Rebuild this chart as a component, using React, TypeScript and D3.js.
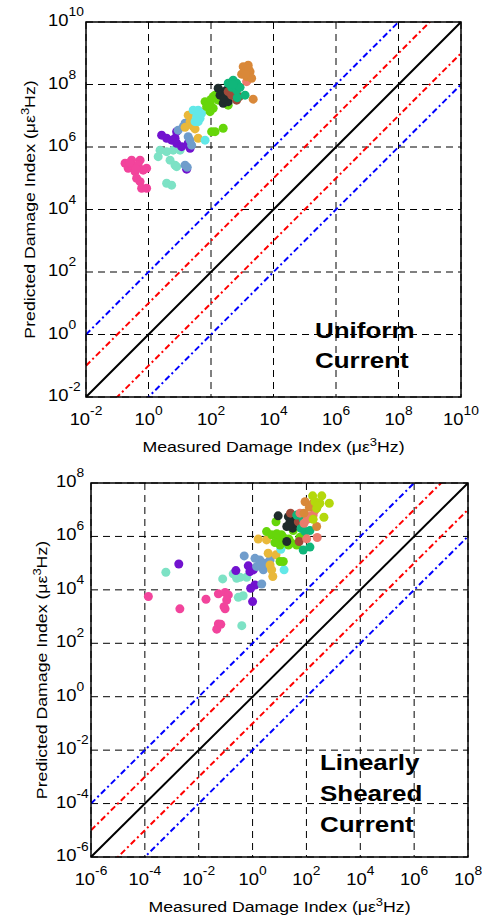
import React from 'react';
import * as d3 from 'd3';

// values are log10 of [measured, predicted] damage index, one array per test group

// --- uniform current panel ---
const uniformPink = [[-0.75, 5.48], [-0.54, 5.58], [-0.27, 5.58], [-0.49, 5.37], [-0.65, 5.32], [-0.43, 5.21], [-0.17, 5.26], [-0.06, 5.32], [-0.38, 5.0], [-0.27, 4.89], [-0.22, 4.68], [-0.06, 4.68], [-0.54, 5.42], [-0.33, 5.42], [-0.6, 5.5], [-0.4, 5.3]];
const uniformAqua = [[0.37, 5.9], [0.31, 5.69], [0.58, 5.85], [0.79, 5.9], [1.01, 5.9], [0.69, 5.58], [0.85, 5.42], [0.9, 5.37], [0.58, 4.84], [0.74, 4.78]];
const uniformPurple = [[0.42, 6.38], [0.58, 6.28], [0.74, 6.22], [0.85, 6.28], [0.9, 6.12], [1.06, 6.01], [1.33, 5.96], [1.27, 6.12], [0.9, 6.49], [1.22, 5.29]];
const uniformSteel = [[0.95, 6.54], [1.11, 6.65], [1.17, 6.76], [1.27, 6.33], [1.33, 6.22], [1.38, 6.06], [1.17, 5.42], [1.24, 5.35]];
const uniformGold = [[1.27, 7.02], [1.43, 7.08], [1.33, 6.81], [1.17, 6.63], [1.43, 6.65], [1.49, 6.58], [1.59, 6.28], [1.65, 7.13]];
const uniformCyan = [[1.43, 7.18], [1.59, 7.18], [1.54, 6.97], [1.65, 6.92], [1.49, 6.81], [1.59, 6.81], [1.81, 6.22], [1.7, 7.08]];
const uniformLime = [[1.81, 7.45], [1.97, 7.4], [1.86, 7.29], [2.07, 7.24], [1.97, 7.13], [2.13, 7.66], [2.23, 7.5], [2.07, 7.61], [2.02, 6.49], [2.13, 6.49], [2.39, 6.6], [2.55, 7.34], [1.92, 7.35], [2.0, 7.52]];
const uniformCharcoal = [[2.23, 7.88], [2.34, 7.77], [2.29, 7.66], [2.45, 7.66], [2.39, 7.4], [2.55, 7.45], [2.5, 7.82], [2.42, 7.55]];
const uniformBrown = [[2.55, 7.77], [2.66, 7.66], [2.82, 7.5], [2.91, 7.61]];
const uniformGreen = [[2.55, 8.04], [2.71, 8.14], [2.82, 8.04], [2.66, 7.91], [2.82, 7.82], [2.93, 7.91], [3.09, 7.66], [2.84, 7.58], [2.7, 8.0]];
const uniformSalmon = [[3.14, 8.09]];
const uniformOrange = [[3.03, 8.57], [3.19, 8.62], [3.09, 8.41], [3.25, 8.41], [3.14, 8.25], [3.3, 8.2], [2.98, 8.33], [3.35, 7.53], [3.2, 8.5], [3.1, 8.32]];

// --- linearly sheared current panel ---
const shearedPink = [[-3.87, 3.75], [-2.7, 3.29], [-1.73, 3.65], [-1.27, 3.85], [-1.02, 3.9], [-0.9, 3.81], [-0.96, 3.62], [-1.06, 3.37], [-1.02, 3.29], [-1.27, 2.72], [-1.33, 2.53], [-1.18, 2.71]];
const shearedAqua = [[-3.22, 4.66], [-1.11, 4.41], [-0.72, 4.6], [-0.59, 4.43], [-0.47, 4.47], [-0.22, 4.47], [-0.53, 3.72], [-0.35, 3.78], [-0.4, 2.66]];
const shearedPurple = [[-2.74, 4.97], [-0.62, 4.72], [-0.16, 4.9], [-0.1, 4.68], [0.03, 4.75], [0.09, 4.18], [-0.07, 4.06], [0.0, 3.56]];
const shearedSteel = [[-0.31, 5.27], [0.09, 5.18], [0.27, 5.12], [0.46, 5.0], [0.15, 4.87], [0.4, 4.75], [0.65, 5.12], [0.34, 4.22], [0.3, 4.95]];
const shearedGold = [[0.21, 5.9], [0.52, 5.87], [0.58, 5.37], [0.65, 4.93], [0.71, 4.75], [0.75, 4.5], [0.87, 5.31]];
const shearedCyan = [[1.17, 4.75], [1.05, 5.52]];
const shearedLime = [[0.87, 6.55], [0.52, 6.18], [0.71, 6.06], [0.95, 5.99], [1.08, 6.06], [1.2, 5.87], [1.33, 5.68], [1.45, 5.75], [1.02, 5.68], [0.83, 5.77], [1.02, 5.06], [1.14, 5.06], [1.64, 5.68], [1.76, 5.97], [1.51, 6.22], [0.9, 6.1], [1.15, 5.95], [1.35, 5.9]];
const shearedCharcoal = [[0.95, 6.77], [1.33, 6.74], [1.39, 6.55], [1.27, 6.37], [1.49, 6.31], [1.54, 6.49], [1.27, 5.81], [1.45, 6.62], [1.36, 6.42]];
const shearedBrown = [[1.41, 6.87], [1.7, 6.55], [1.73, 5.81]];
const shearedGreen = [[1.64, 6.8], [1.88, 6.64], [1.95, 6.18], [2.13, 6.22], [1.88, 5.49], [2.13, 5.6], [1.8, 6.3]];
const shearedSalmon = [[1.76, 6.87], [2.03, 6.64], [2.25, 6.8], [2.32, 6.99], [1.91, 6.49], [2.4, 5.96], [2.01, 5.91], [2.1, 6.75]];
const shearedOrange = [[1.95, 7.3], [2.11, 7.09], [2.25, 7.24], [2.38, 6.37], [1.91, 6.87]];
const shearedYellowGreen = [[2.23, 7.52], [2.57, 7.52], [2.32, 7.3], [2.5, 7.24], [2.38, 7.05], [2.65, 6.72], [2.85, 7.24], [2.25, 6.64], [2.42, 7.15]];

// tick exponents
const uniformTicks = [-2, 0, 2, 4, 6, 8, 10];
const shearedTicks = [-6, -4, -2, 0, 2, 4, 6, 8];

// predicted = factor * measured
const refFactors = [100, 10, 1, 0.1, 0.01];
const refColors = ['#0000ff', '#ff0000', '#000000', '#ff0000', '#0000ff'];

const xTitle = 'Measured Damage Index';
const yTitle = 'Predicted Damage Index';

const col = {
  pink: '#f2449c',
  aqua: '#7de2c5',
  purple: '#7212cf',
  steel: '#709dcc',
  gold: '#e9b83a',
  cyan: '#62e8e8',
  lime: '#66d60a',
  charcoal: '#1f2c2c',
  brown: '#9f4a39',
  green: '#10b67a',
  salmon: '#ec7b6c',
  orange: '#d98839',
  yellowGreen: '#b4d80c',
};

const uniformGroups: [string, number[][]][] = [
  [col.pink, uniformPink], [col.aqua, uniformAqua], [col.purple, uniformPurple], [col.steel, uniformSteel],
  [col.gold, uniformGold], [col.cyan, uniformCyan], [col.lime, uniformLime], [col.charcoal, uniformCharcoal],
  [col.brown, uniformBrown], [col.green, uniformGreen], [col.salmon, uniformSalmon], [col.orange, uniformOrange],
];
const shearedGroups: [string, number[][]][] = [
  [col.pink, shearedPink], [col.aqua, shearedAqua], [col.purple, shearedPurple], [col.steel, shearedSteel],
  [col.gold, shearedGold], [col.cyan, shearedCyan], [col.lime, shearedLime], [col.charcoal, shearedCharcoal],
  [col.brown, shearedBrown], [col.green, shearedGreen], [col.salmon, shearedSalmon], [col.orange, shearedOrange],
  [col.yellowGreen, shearedYellowGreen],
];

const FONT = 'Liberation Sans, Arial, Helvetica, sans-serif';
const SX = 1.15; // source glyphs are drawn wider than Arial

const Units = () => (
  <>
    {' ('}με<tspan dy={-6} fontSize={11}>3</tspan><tspan dy={6}>Hz)</tspan>
  </>
);

const Panel = (props: any) => {
  const { id, x0, y0, w, h, ticks, groups, legend, legendX, legendY, legendStep, yLabX, yTitleX } = props;
  const lo = ticks[0];
  const hi = ticks[ticks.length - 1];
  const xs = d3.scaleLog().domain([10 ** lo, 10 ** hi]).range([x0, x0 + w]);
  const ys = d3.scaleLog().domain([10 ** lo, 10 ** hi]).range([y0 + h, y0]);
  const line = d3.line();

  return (
    <g>
      <defs>
        <clipPath id={id}>
          <rect x={x0} y={y0} width={w} height={h} />
        </clipPath>
      </defs>
      <rect x={x0} y={y0} width={w} height={h} fill="#fff" />
      {/* grid */}
      {ticks.map((t: number) => (
        <g key={'g' + t}>
          <line x1={xs(10 ** t)} x2={xs(10 ** t)} y1={y0} y2={y0 + h} stroke="#000" strokeWidth={1} strokeDasharray="7,5" />
          <line x1={x0} x2={x0 + w} y1={ys(10 ** t)} y2={ys(10 ** t)} stroke="#000" strokeWidth={1} strokeDasharray="7,5" />
        </g>
      ))}
      {/* reference lines and data */}
      <g clipPath={`url(#${id})`}>
        {refFactors.map((k, i) => (
          <path
            key={'r' + i}
            d={line([[xs(10 ** lo), ys(k * 10 ** lo)], [xs(10 ** hi), ys(k * 10 ** hi)]]) || ''}
            fill="none"
            stroke={refColors[i]}
            strokeWidth={2}
            strokeDasharray={k === 1 ? undefined : '6,3,2,3'}
          />
        ))}
        {groups.map(([c, pts]: [string, number[][]], gi: number) =>
          pts.map((p, pi) => (
            <circle key={gi + '-' + pi} cx={xs(10 ** p[0])} cy={ys(10 ** p[1])} r={4.5} fill={c} />
          ))
        )}
      </g>
      <rect x={x0} y={y0} width={w} height={h} fill="none" stroke="#000" strokeWidth={1.5} />
      {/* x tick labels */}
      {ticks.map((t: number) => (
        <text key={'x' + t} transform={`translate(${xs(10 ** t)},${y0 + h + 28}) scale(${SX},1)`} textAnchor="middle" fontFamily={FONT} fontSize={16}>
          10<tspan dy={-10} fontSize={12}>{t}</tspan>
        </text>
      ))}
      {/* y tick labels */}
      {ticks.map((t: number) => (
        <text key={'y' + t} transform={`translate(${yLabX},${ys(10 ** t) + 4}) scale(${SX},1)`} textAnchor="start" fontFamily={FONT} fontSize={16}>
          10<tspan dy={-10} fontSize={12}>{t}</tspan>
        </text>
      ))}
      {/* titles */}
      <text transform={`translate(${x0 + w / 2},${y0 + h + 55}) scale(1.18,1)`} textAnchor="middle" fontFamily={FONT} fontSize={15}>
        {xTitle}<Units />
      </text>
      <text transform={`translate(${yTitleX},${y0 + h / 2}) rotate(-90) scale(1.18,1)`} textAnchor="middle" fontFamily={FONT} fontSize={15}>
        {yTitle}<Units />
      </text>
      {/* panel label */}
      {legend.map((s: string, i: number) => (
        <text key={s} transform={`translate(${legendX},${legendY + i * legendStep}) scale(1.18,1)`} fontFamily={FONT} fontSize={22} fontWeight="bold">
          {s}
        </text>
      ))}
    </g>
  );
};

export default function App() {
  return (
    <svg width={482} height={920} style={{ position: 'absolute', left: 0, top: 0, background: '#fff' }}>
      <rect width={482} height={920} fill="#fff" />
      <Panel id="clipU" x0={86} y0={22} w={375} h={375} ticks={uniformTicks} groups={uniformGroups}
        legend={['Uniform', 'Current']} legendX={315} legendY={338} legendStep={30} yLabX={48} yTitleX={35} />
      <Panel id="clipS" x0={91} y0={483} w={377} h={374} ticks={shearedTicks} groups={shearedGroups}
        legend={['Linearly', 'Sheared', 'Current']} legendX={320} legendY={770} legendStep={31} yLabX={56} yTitleX={47} />
    </svg>
  );
}
